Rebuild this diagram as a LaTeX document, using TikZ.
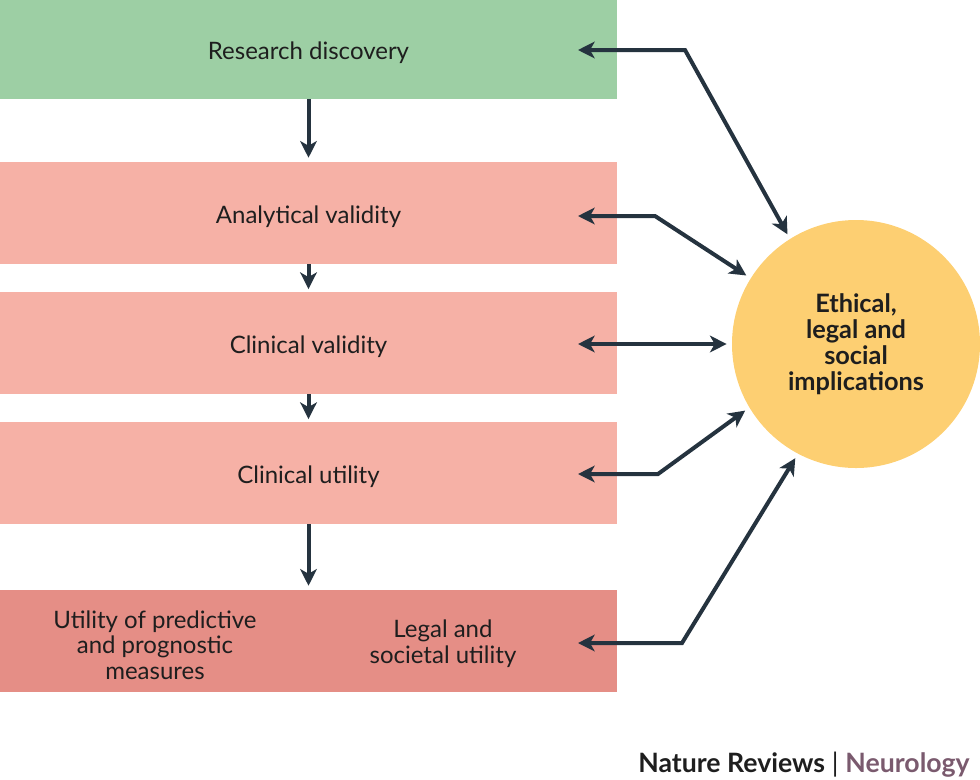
\documentclass[tikz,border=0pt]{standalone}
\usepackage{fontspec}
\setmainfont{Lato}
\usetikzlibrary{arrows.meta}
\definecolor{boxgreen}{HTML}{9DCFA4}
\definecolor{boxpink}{HTML}{F6B1A6}
\definecolor{boxdark}{HTML}{E58E86}
\definecolor{circyellow}{HTML}{FDCF72}
\definecolor{arrowcol}{HTML}{25333F}
\definecolor{mauve}{HTML}{7A5A6E}
\definecolor{txt}{HTML}{1E1E1E}
\begin{document}
\begin{tikzpicture}[x=0.75pt,y=-0.75pt,
  stagebox/.style={draw=none,minimum width=462.75pt,minimum height=76.5pt,inner sep=0pt,
    font=\fontsize{18}{19.5}\selectfont,text=txt,text height=18pt,text depth=3pt},
  lbl/.style={align=center,font=\fontsize{18}{19.2}\selectfont,text=txt},
  conn/.style={draw=arrowcol,line width=3pt,
    -{Stealth[length=12.5pt,width=12.5pt,inset=3.5pt]}},
  bconn/.style={draw=arrowcol,line width=3pt,
    {Stealth[length=12.5pt,width=12.5pt,inset=3.5pt]}-{Stealth[length=12.5pt,width=12.5pt,inset=3.5pt]}}
]
\useasboundingbox (0,0) rectangle (980,779);

\node[stagebox,fill=boxgreen,minimum height=74.25pt] (rd) at (308.5,49.5) {Research discovery};
\node[stagebox,fill=boxpink] (av) at (308.5,213) {Analytical validity};
\node[stagebox,fill=boxpink] (cv) at (308.5,343) {Clinical validity};
\node[stagebox,fill=boxpink] (cu) at (308.5,473) {Clinical utility};
\node[stagebox,fill=boxdark] (bt) at (308.5,641) {};
\node[lbl] (up) at (155,645) {Utility of predictive\\and prognostic\\measures};
\node[lbl] (ls) at (443,644) {Legal and\\societal utility};

\node[circle,fill=circyellow,minimum size=186pt,inner sep=0pt,outer sep=4pt,
  align=center,font=\bfseries\fontsize{19}{19.5}\selectfont,text=txt] (el) at (856,344)
  {Ethical,\\legal and\\social\\implications};

% vertical flow arrows
\draw[conn,shorten >=3pt] (rd.south) -- (av.north);
\draw[conn,shorten >=2pt] (av.south) -- (cv.north);
\draw[conn,shorten >=2pt] (cv.south) -- (cu.north);
\draw[conn,shorten >=3pt] (cu.south) -- (bt.north);

% connectors to the circle
\coordinate (t1) at (578,50);  \coordinate (k1) at (685,50);
\coordinate (t2) at (578,216); \coordinate (k2) at (655,216);
\coordinate (t3) at (578,344);
\coordinate (t4) at (578,474); \coordinate (k4) at (658,474);
\coordinate (t5) at (578,643); \coordinate (k5) at (682,643);

\draw[bconn] (t1) -- (k1) -- (el.122);
\draw[bconn] (t2) -- (k2) -- (el.148);
\draw[bconn] (t3) -- (el.180);
\draw[bconn] (t4) -- (k4) -- (el.211);
\draw[bconn] (t5) -- (k5) -- (el.242);

\node[anchor=base east,inner sep=0pt,font=\fontsize{20}{22}\selectfont] (ft) at (970,772)
  {\textbf{\textcolor{txt}{Nature Reviews}} \textcolor{txt}{|} \textbf{\textcolor{mauve}{Neurology}}};
\end{tikzpicture}
\end{document}
